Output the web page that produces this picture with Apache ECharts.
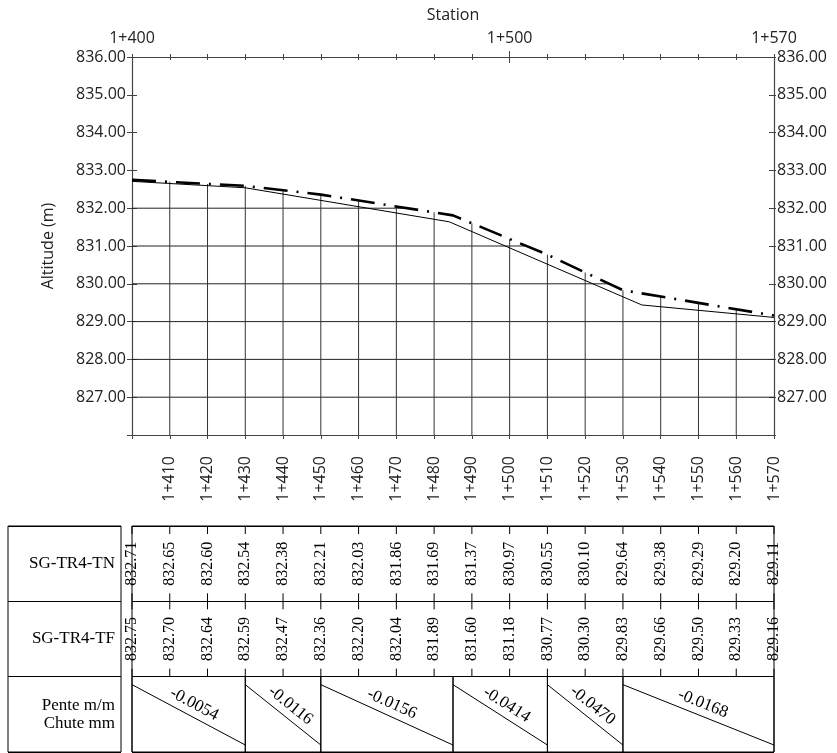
<!DOCTYPE html>
<html>
<head>
<meta charset="utf-8">
<script src="https://cdn.jsdelivr.net/npm/echarts@6/dist/echarts.min.js"></script>
<style>
  html, body { margin: 0; padding: 0; background: #fff; }
  #chart { width: 837px; height: 753px; }
</style>
</head>
<body>
<div id="chart"></div>
<script>
  // stations every 10 m (1400 = 1+400)
  var stations = [1400, 1410, 1420, 1430, 1440, 1450, 1460, 1470, 1480,
                  1490, 1500, 1510, 1520, 1530, 1540, 1550, 1560, 1570];
  // table values
  var tnValues = [832.71, 832.65, 832.60, 832.54, 832.38, 832.21, 832.03, 831.86, 831.69,
                  831.37, 830.97, 830.55, 830.10, 829.64, 829.38, 829.29, 829.20, 829.11];
  var tfValues = [832.75, 832.70, 832.64, 832.59, 832.47, 832.36, 832.20, 832.04, 831.89,
                  831.60, 831.18, 830.77, 830.30, 829.83, 829.66, 829.50, 829.33, 829.16];

  // projet (TF) : points de changement de pente
  var gradeBreaks = [1400, 1430, 1450, 1485, 1510, 1530, 1570];
  var gradeElev = [832.75, 832.59, 832.36, 831.81, 830.77, 829.83, 829.16];
  var gradeSlopes = [-0.0054, -0.0116, -0.0156, -0.0414, -0.0470, -0.0168];

  // terrain naturel (TN) : sommets du trait
  var tnLineStations = [1400, 1430, 1484, 1535, 1570];
  var tnLineElev = [832.71, 832.54, 831.64, 829.44, 829.11];

  var gridLevels = [827, 828, 829, 830, 831, 832, 833, 834, 835];
  var rowNames = ['SG-TR4-TN', 'SG-TR4-TF', 'Pente m/m\nChute mm'];

  var xMin = 1400, xMax = 1570, yMin = 826, yMax = 836;
  var sans = 'Open Sans';
  var serif = 'Liberation Serif';
  var axisColor = '#444';

  function station(v) {
    return '1+' + String(v - 1000);
  }

  // ou le trait du projet passe sous une altitude donnee
  function gradeCrossing(level) {
    if (gradeElev[0] <= level) return xMin;
    for (var i = 1; i < gradeBreaks.length; i++) {
      var e0 = gradeElev[i - 1], e1 = gradeElev[i];
      if (e0 > level && e1 <= level) {
        return gradeBreaks[i - 1] + (gradeBreaks[i] - gradeBreaks[i - 1]) * (e0 - level) / (e0 - e1);
      }
    }
    return xMax;
  }

  function seg(x1, y1, x2, y2, color, w) {
    return { type: 'line', shape: { x1: x1, y1: y1, x2: x2, y2: y2 },
             style: { stroke: color || '#000', lineWidth: w || 1 } };
  }

  function topAxis(extra) {
    var a = {
      type: 'value', gridIndex: 0, position: 'top', min: xMin, max: xMax, interval: 10,
      axisLine: { show: false }, axisLabel: { show: false }, splitLine: { show: false },
      axisTick: { show: true, length: 3, lineStyle: { color: axisColor } }
    };
    return Object.assign(a, extra);
  }

  var chart = echarts.init(document.getElementById('chart'));

  var option = {
    backgroundColor: '#fff',
    animation: false,
    grid: [
      { left: 132, right: 63, top: 57, bottom: 318 },
      { left: 132, right: 63, top: 526, bottom: 1, show: true, borderColor: '#000', borderWidth: 1 },
      { left: 8, width: 113, top: 526, bottom: 1, show: true, borderColor: '#000', borderWidth: 1 }
    ],
    xAxis: [
      {
        type: 'value', gridIndex: 0, position: 'bottom', min: xMin, max: xMax, interval: 10,
        axisLine: { show: true, lineStyle: { color: axisColor, width: 1.2 } },
        axisTick: { show: true, length: 4, lineStyle: { color: axisColor } },
        axisLabel: {
          rotate: 90, margin: 21, fontFamily: sans, fontSize: 16, color: '#222',
          formatter: function (v) { return v === xMin ? '' : station(v); }
        },
        splitLine: { show: false }
      },
      topAxis({
        name: 'Station', nameLocation: 'middle', nameGap: 34,
        nameTextStyle: { fontFamily: sans, fontSize: 16, color: '#222' },
        axisLine: { show: true, lineStyle: { color: axisColor, width: 1.2 } },
        axisLabel: {
          show: true, margin: 11, fontFamily: sans, fontSize: 16, color: '#222',
          formatter: function (v) {
            return (v === 1400 || v === 1500 || v === 1570) ? station(v) : '';
          }
        }
      }),
      topAxis({ axisTick: { show: true, inside: true, length: 3, lineStyle: { color: axisColor } } }),
      topAxis({ axisTick: { show: true, length: 6, customValues: [1500], lineStyle: { color: axisColor } } }),
      topAxis({ axisTick: { show: true, inside: true, length: 6, customValues: [1500], lineStyle: { color: axisColor } } }),
      {
        type: 'value', gridIndex: 1, min: xMin, max: xMax,
        axisLine: { show: false }, axisTick: { show: false }, axisLabel: { show: false },
        splitLine: { show: false }
      },
      {
        type: 'value', gridIndex: 2, min: 0, max: 1,
        axisLine: { show: false }, axisTick: { show: false }, axisLabel: { show: false },
        splitLine: { show: false }
      }
    ],
    yAxis: [
      {
        type: 'value', gridIndex: 0, position: 'left', min: yMin, max: yMax, interval: 1,
        name: 'Altitude (m)', nameLocation: 'middle', nameGap: 76,
        nameTextStyle: { fontFamily: sans, fontSize: 16, color: '#222' },
        axisLine: { show: true, lineStyle: { color: axisColor, width: 1.2 } },
        axisTick: { show: true, length: 5, lineStyle: { color: axisColor } },
        axisLabel: {
          margin: 6, fontFamily: sans, fontSize: 16, color: '#222',
          formatter: function (v) { return v === yMin ? '' : v.toFixed(2); }
        },
        splitLine: { show: false }
      },
      {
        type: 'value', gridIndex: 0, position: 'left', min: yMin, max: yMax, interval: 1,
        axisLine: { show: false }, axisLabel: { show: false }, splitLine: { show: false },
        axisTick: { show: true, inside: true, length: 5, lineStyle: { color: axisColor } }
      },
      {
        type: 'value', gridIndex: 0, position: 'right', min: yMin, max: yMax, interval: 1,
        axisLine: { show: true, lineStyle: { color: axisColor, width: 1.2 } },
        axisTick: { show: true, length: 2, lineStyle: { color: axisColor } },
        axisLabel: {
          margin: 3, fontFamily: sans, fontSize: 16, color: '#222',
          formatter: function (v) { return v === yMin ? '' : v.toFixed(2); }
        },
        splitLine: { show: false }
      },
      {
        type: 'value', gridIndex: 0, position: 'right', min: yMin, max: yMax, interval: 1,
        axisLine: { show: false }, axisLabel: { show: false }, splitLine: { show: false },
        axisTick: { show: true, inside: true, length: 5, lineStyle: { color: axisColor } }
      },
      {
        type: 'category', gridIndex: 1, data: rowNames, inverse: true,
        axisLine: { show: false }, axisTick: { show: false }, axisLabel: { show: false },
        splitLine: { show: true, lineStyle: { color: '#000', width: 1 } }
      },
      {
        type: 'category', gridIndex: 2, data: rowNames, inverse: true, position: 'right',
        axisLine: { show: false }, axisTick: { show: false },
        axisLabel: {
          inside: true, margin: 6, fontFamily: serif, fontSize: 17, lineHeight: 18,
          color: '#000', align: 'right'
        },
        splitLine: { show: true, lineStyle: { color: '#000', width: 1 } }
      }
    ],
    series: [
      // lignes horizontales sous le projet
      {
        type: 'custom', xAxisIndex: 0, yAxisIndex: 0, z: 1,
        data: gridLevels.map(function (l) { return [gradeCrossing(l), l]; })
          .filter(function (d) { return d[0] > xMin; }),
        renderItem: function (params, api) {
          var a = api.coord([xMin, api.value(1)]);
          var b = api.coord([api.value(0), api.value(1)]);
          return seg(a[0], a[1], b[0], b[1], '#222', 1);
        }
      },
      // lignes verticales aux profils
      {
        type: 'custom', xAxisIndex: 0, yAxisIndex: 0, z: 1,
        data: stations.map(function (s, i) { return [s, tfValues[i]]; })
          .filter(function (d) { return d[0] > xMin && d[0] < xMax; }),
        renderItem: function (params, api) {
          var a = api.coord([api.value(0), api.value(1)]);
          var b = api.coord([api.value(0), yMin]);
          return seg(a[0], a[1], b[0], b[1], '#333', 1);
        }
      },
      {
        name: 'TN', type: 'line', xAxisIndex: 0, yAxisIndex: 0, z: 3,
        data: tnLineStations.map(function (s, i) { return [s, tnLineElev[i]]; }),
        showSymbol: false, symbol: 'none',
        lineStyle: { color: '#000', width: 1 }
      },
      {
        name: 'TF', type: 'line', xAxisIndex: 0, yAxisIndex: 0, z: 4,
        data: gradeBreaks.map(function (s, i) { return [s, gradeElev[i]]; }),
        showSymbol: false, symbol: 'none',
        lineStyle: { color: '#000', width: 2.6, type: [24, 9, 2, 9] }
      },
      // tableau : altitudes TN / TF
      {
        type: 'custom', xAxisIndex: 5, yAxisIndex: 4, z: 5,
        encode: { x: 0, y: 1 },
        data: stations.map(function (s, i) { return [s, 0, tnValues[i]]; })
          .concat(stations.map(function (s, i) { return [s, 1, tfValues[i]]; })),
        renderItem: function (params, api) {
          var c = api.coord([api.value(0), api.value(1)]);
          var h = api.size([0, 1])[1];
          var t = c[1] - h / 2, b = c[1] + h / 2;
          return {
            type: 'group',
            children: [
              seg(c[0], t, c[0], t + 8),
              seg(c[0], b - 8, c[0], b),
              {
                type: 'text', x: c[0], y: c[1], rotation: Math.PI / 2,
                style: {
                  text: api.value(2).toFixed(2), x: 0, y: 0,
                  align: 'center', verticalAlign: 'middle',
                  fontFamily: serif, fontSize: 16, fill: '#000'
                }
              }
            ]
          };
        }
      },
      // tableau : pentes
      {
        type: 'custom', xAxisIndex: 5, yAxisIndex: 4, z: 5,
        encode: { x: 0, y: 1 },
        data: gradeSlopes.map(function (p, i) { return [gradeBreaks[i], 2, gradeBreaks[i + 1], p]; }),
        renderItem: function (params, api) {
          var p0 = api.coord([api.value(0), 2]);
          var p1 = api.coord([api.value(2), 2]);
          var h = api.size([0, 1])[1];
          var t = p0[1] - h / 2, b = p0[1] + h / 2;
          var x0 = p0[0], x1 = p1[0], y0 = t + 8, y1 = b - 7;
          var ang = Math.atan2(y1 - y0, x1 - x0);
          var mx = (x0 + x1) / 2, my = (y0 + y1) / 2;
          var off = 12;
          return {
            type: 'group',
            children: [
              seg(x0, t, x0, b),
              seg(x1, t, x1, b),
              seg(x0, y0, x1, y1),
              {
                type: 'text', x: mx + Math.sin(ang) * off, y: my - Math.cos(ang) * off,
                rotation: -ang,
                style: {
                  text: api.value(3).toFixed(4), x: 0, y: 0,
                  align: 'center', verticalAlign: 'middle',
                  fontFamily: serif, fontSize: 17, fill: '#000'
                }
              }
            ]
          };
        }
      }
    ]
  };

  chart.setOption(option);
</script>
</body>
</html>
